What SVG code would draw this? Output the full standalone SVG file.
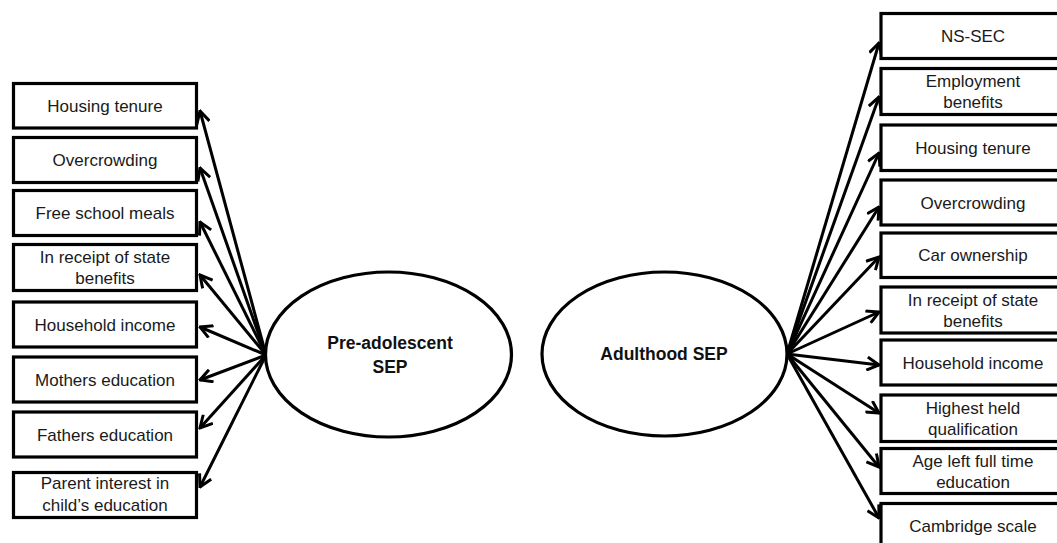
<svg xmlns="http://www.w3.org/2000/svg" width="1057" height="543" viewBox="0 0 1057 543">
<style>
.box{fill:#fff;stroke:#000;stroke-width:3.2}
.ell{fill:#fff;stroke:#000;stroke-width:3.2}
.t{font-family:"Liberation Sans",Arial,sans-serif;font-size:17px;fill:#1a1a1a;text-anchor:middle}
.b{font-family:"Liberation Sans",Arial,sans-serif;font-size:17.5px;font-weight:bold;fill:#111;text-anchor:middle}
.c{stroke:#000;stroke-width:3;fill:none;marker-end:url(#ah)}
</style>
<defs>
<marker id="ah" viewBox="0 0 15 15" refX="13.5" refY="7.5" markerWidth="15" markerHeight="15" markerUnits="userSpaceOnUse" orient="auto">
<path d="M1.5,1 L13.5,7.5 L1.5,14" fill="none" stroke="#000" stroke-width="3" stroke-linejoin="miter"/>
</marker>
</defs>
<rect width="1057" height="543" fill="#fff"/>
<g id="connectors">
<line class="c" x1="266" y1="355" x2="200" y2="111"/>
<line class="c" x1="266" y1="355" x2="200" y2="168"/>
<line class="c" x1="266" y1="355" x2="200" y2="222"/>
<line class="c" x1="266" y1="355" x2="200" y2="275"/>
<line class="c" x1="266" y1="355" x2="200" y2="327"/>
<line class="c" x1="266" y1="355" x2="200" y2="380"/>
<line class="c" x1="266" y1="355" x2="200" y2="428"/>
<line class="c" x1="266" y1="355" x2="200" y2="487"/>
<line class="c" x1="787" y1="354" x2="879" y2="43"/>
<line class="c" x1="787" y1="354" x2="879" y2="97"/>
<line class="c" x1="787" y1="354" x2="879" y2="153"/>
<line class="c" x1="787" y1="354" x2="879" y2="207"/>
<line class="c" x1="787" y1="354" x2="879" y2="257"/>
<line class="c" x1="787" y1="354" x2="879" y2="312"/>
<line class="c" x1="787" y1="354" x2="879" y2="365"/>
<line class="c" x1="787" y1="354" x2="879" y2="413"/>
<line class="c" x1="787" y1="354" x2="879" y2="467"/>
<line class="c" x1="787" y1="354" x2="879" y2="518"/>
</g>
<g id="pre-adolescent-sep">
<ellipse class="ell" cx="388.5" cy="354.5" rx="123" ry="82.5"/>
<text class="b" x="390" y="349">Pre-adolescent</text>
<text class="b" x="390" y="373">SEP</text>
</g>
<g id="adulthood-sep">
<ellipse class="ell" cx="664.5" cy="354" rx="122.5" ry="82"/>
<text class="b" x="664" y="360">Adulthood SEP</text>
</g>
<g id="l-housing-tenure"><rect class="box" x="13.5" y="83.5" width="183" height="44.5"/><text class="t" x="105" y="111.5">Housing tenure</text></g>
<g id="l-overcrowding"><rect class="box" x="13.5" y="137.5" width="183" height="45"/><text class="t" x="105" y="166">Overcrowding</text></g>
<g id="l-free-school-meals"><rect class="box" x="13.5" y="190.5" width="183" height="45"/><text class="t" x="105" y="219">Free school meals</text></g>
<g id="l-state-benefits"><rect class="box" x="13.5" y="244.5" width="183" height="46"/><text class="t" x="105" y="263">In receipt of state</text><text class="t" x="105" y="284">benefits</text></g>
<g id="l-household-income"><rect class="box" x="13.5" y="302" width="183" height="45"/><text class="t" x="105" y="330.5">Household income</text></g>
<g id="l-mothers-education"><rect class="box" x="13.5" y="357" width="183" height="45"/><text class="t" x="105" y="385.5">Mothers education</text></g>
<g id="l-fathers-education"><rect class="box" x="13.5" y="412" width="183" height="45"/><text class="t" x="105" y="440.5">Fathers education</text></g>
<g id="l-parent-interest"><rect class="box" x="13.5" y="472.5" width="183" height="45"/><text class="t" x="105" y="489">Parent interest in</text><text class="t" x="105" y="511">child’s education</text></g>
<g id="r-ns-sec"><rect class="box" x="881" y="13.5" width="184" height="45"/><text class="t" x="973" y="42">NS-SEC</text></g>
<g id="r-employment-benefits"><rect class="box" x="881" y="68.5" width="184" height="46"/><text class="t" x="973" y="87">Employment</text><text class="t" x="973" y="108">benefits</text></g>
<g id="r-housing-tenure"><rect class="box" x="881" y="125" width="184" height="45.5"/><text class="t" x="973" y="153.5">Housing tenure</text></g>
<g id="r-overcrowding"><rect class="box" x="881" y="180" width="184" height="45"/><text class="t" x="973" y="208.5">Overcrowding</text></g>
<g id="r-car-ownership"><rect class="box" x="881" y="233" width="184" height="44.5"/><text class="t" x="973" y="261">Car ownership</text></g>
<g id="r-state-benefits"><rect class="box" x="881" y="287" width="184" height="46"/><text class="t" x="973" y="305.5">In receipt of state</text><text class="t" x="973" y="326.5">benefits</text></g>
<g id="r-household-income"><rect class="box" x="881" y="340" width="184" height="45"/><text class="t" x="973" y="368.5">Household income</text></g>
<g id="r-highest-qualification"><rect class="box" x="881" y="395" width="184" height="46.5"/><text class="t" x="973" y="413.5">Highest held</text><text class="t" x="973" y="434.5">qualification</text></g>
<g id="r-age-left-education"><rect class="box" x="881" y="448.5" width="184" height="45"/><text class="t" x="973" y="467">Age left full time</text><text class="t" x="973" y="488">education</text></g>
<g id="r-cambridge-scale"><rect class="box" x="881" y="503.5" width="184" height="46"/><text class="t" x="973" y="532">Cambridge scale</text></g>
</svg>
